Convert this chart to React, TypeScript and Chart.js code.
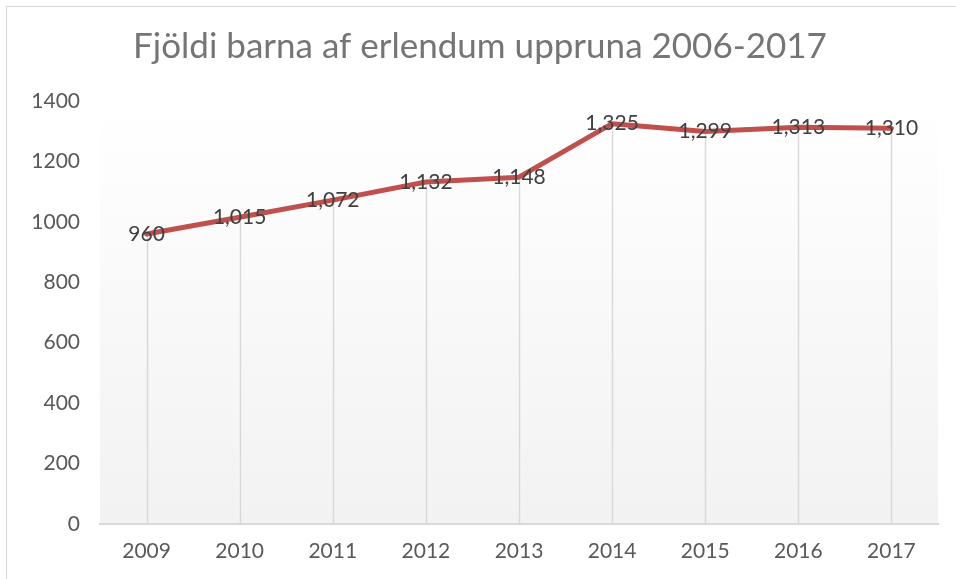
import React, { useEffect, useRef } from "react";
import { Chart, registerables } from "chart.js";

Chart.register(...registerables);

const years = ["2009", "2010", "2011", "2012", "2013", "2014", "2015", "2016", "2017"];
const children = [960, 1015, 1072, 1132, 1148, 1325, 1299, 1313, 1310];
const titleText = "Fjöldi barna af erlendum uppruna 2006-2017";
const yMin = 0;
const yMax = 1400;
const yStep = 200;

const FONT = "Lato, 'Open Sans', sans-serif";

const framePlugin = {
  id: "frame",
  beforeDraw(chart: any) {
    const { ctx } = chart;
    ctx.save();
    ctx.strokeStyle = "#d9d9d9";
    ctx.lineWidth = 1;
    ctx.strokeRect(6.5, 6.5, 2000, 2000);
    // chart title
    ctx.font = `35px ${FONT}`;
    ctx.fillStyle = "#757575";
    ctx.textAlign = "center";
    ctx.textBaseline = "alphabetic";
    ctx.fillText(titleText, 480, 58);
    ctx.restore();
  },
};

const plotBgPlugin = {
  id: "plotBg",
  beforeDatasetsDraw(chart: any) {
    const { ctx, chartArea } = chart;
    const { left, top, right, bottom } = chartArea;
    ctx.save();
    const g = ctx.createLinearGradient(0, top, 0, bottom);
    g.addColorStop(0, "#ffffff");
    g.addColorStop(1, "#f2f2f2");
    ctx.fillStyle = g;
    ctx.fillRect(left, top, right - left, bottom - top - 1);
    // drop lines from each point to the category axis
    const meta = chart.getDatasetMeta(0);
    ctx.strokeStyle = "#d9d9d9";
    ctx.lineWidth = 1.5;
    meta.data.forEach((pt: any) => {
      ctx.beginPath();
      ctx.moveTo(Math.round(pt.x) + 0.5, pt.y);
      ctx.lineTo(Math.round(pt.x) + 0.5, bottom);
      ctx.stroke();
    });
    ctx.restore();
  },
};

const labelPlugin = {
  id: "valueLabels",
  afterDatasetsDraw(chart: any) {
    const { ctx } = chart;
    const meta = chart.getDatasetMeta(0);
    const data = chart.data.datasets[0].data as number[];
    ctx.save();
    ctx.font = `21px ${FONT}`;
    ctx.fillStyle = "#404040";
    ctx.textAlign = "center";
    ctx.textBaseline = "middle";
    meta.data.forEach((pt: any, i: number) => {
      ctx.fillText(data[i].toLocaleString("en-US"), pt.x, pt.y);
    });
    ctx.restore();
  },
};

export default function App() {
  const canvasRef = useRef<HTMLCanvasElement | null>(null);

  useEffect(() => {
    if (!canvasRef.current) return;
    const chart = new Chart(canvasRef.current, {
      type: "line",
      data: {
        labels: years,
        datasets: [
          {
            data: children,
            borderColor: "#c0504d",
            backgroundColor: "#c0504d",
            borderWidth: 5,
            pointRadius: 0,
            pointHoverRadius: 0,
            tension: 0,
            borderCapStyle: "round",
            borderJoinStyle: "round",
          },
        ],
      },
      options: {
        animation: false,
        responsive: true,
        maintainAspectRatio: false,
        layout: { padding: { left: 0, right: 18, top: 101, bottom: 0 } },
        plugins: {
          legend: { display: false },
          tooltip: { enabled: false },
          title: { display: false },
        },
        scales: {
          x: {
            type: "category",
            offset: true,
            grid: { display: false, drawTicks: false },
            border: { display: true, color: "#d9d9d9", width: 2 },
            ticks: {
              color: "#595959",
              font: { family: FONT, size: 21 },
              padding: 15,
              maxRotation: 0,
              autoSkip: false,
            },
            afterFit: (scale: any) => {
              scale.height = 55;
            },
          },
          y: {
            min: yMin,
            max: yMax,
            grid: { display: false, drawTicks: false },
            border: { display: false },
            ticks: {
              stepSize: yStep,
              color: "#595959",
              font: { family: FONT, size: 21 },
              padding: 20,
              callback: (value: any) => String(value),
            },
            afterFit: (scale: any) => {
              scale.width = 100;
            },
          },
        },
      },
      plugins: [framePlugin, plotBgPlugin, labelPlugin],
    });
    return () => chart.destroy();
  }, []);

  return (
    <div style={{ position: "absolute", left: 0, top: 0, width: 956, height: 579, background: "#ffffff" }}>
      <canvas ref={canvasRef} />
    </div>
  );
}
